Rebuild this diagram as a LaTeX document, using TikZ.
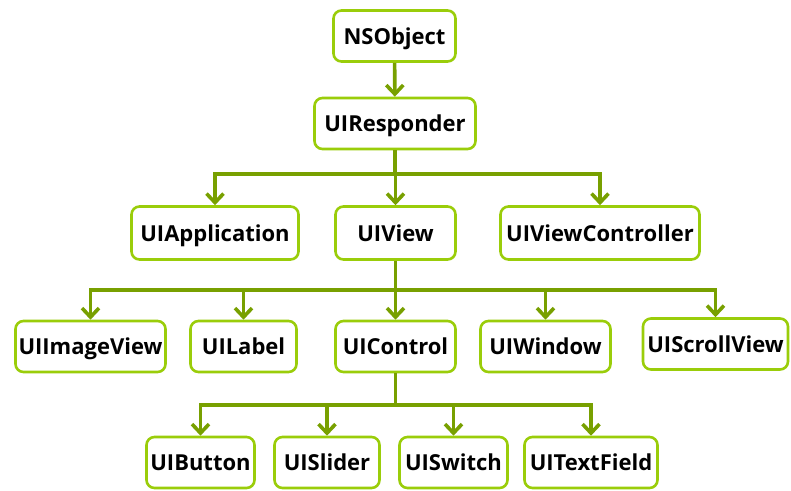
\documentclass[tikz,border=0pt]{standalone}
\usepackage{fontspec}
\setmainfont{Open Sans}
\usetikzlibrary{arrows.meta}
\definecolor{linkgreen}{HTML}{78A000}
\definecolor{framegreen}{HTML}{9ACD0A}
\tikzset{
  cls/.style={draw=framegreen, line width=2.6pt, rounded corners=8pt, fill=white,
    inner sep=0pt, text height=16pt, text depth=0pt, text=black,
    font=\bfseries\fontsize{22}{26}\selectfont},
  link/.style={draw=linkgreen, line width=3.6pt, line join=miter,
    -{Straight Barb[length=9pt,width=17pt,line width=3.6pt]}},
  trunk/.style={draw=linkgreen, line width=3.6pt}
}
\begin{document}
\begin{tikzpicture}[x=1pt,y=-1pt]
\useasboundingbox (0,0) rectangle (791,490);
% class boxes: name, centre, size
\node[cls, minimum width=122pt, minimum height=51pt] (nsobject) at (394.5,36) {NSObject};
\node[cls, minimum width=161pt, minimum height=51pt] (responder) at (395,123.5) {UIResponder};
\node[cls, minimum width=167pt, minimum height=53pt] (application) at (215,233) {UIApplication};
\node[cls, minimum width=120pt, minimum height=53pt] (view) at (395.5,233) {UIView};
\node[cls, minimum width=199pt, minimum height=53pt] (viewctrl) at (600,233) {UIViewController};
\node[cls, minimum width=150pt, minimum height=51pt] (imageview) at (90.5,346.5) {UIImageView};
\node[cls, minimum width=106pt, minimum height=51pt] (label) at (243.5,346.5) {UILabel};
\node[cls, minimum width=120pt, minimum height=51pt] (control) at (395.5,346.5) {UIControl};
\node[cls, minimum width=130pt, minimum height=51pt] (window) at (545.5,346.5) {UIWindow};
\node[cls, minimum width=145pt, minimum height=51pt] (scrollview) at (715.5,344) {UIScrollView};
\node[cls, minimum width=108pt, minimum height=51pt] (button) at (200.5,462.5) {UIButton};
\node[cls, minimum width=105pt, minimum height=51pt] (slider) at (327,462.5) {UISlider};
\node[cls, minimum width=108pt, minimum height=51pt] (switch) at (453.5,462.5) {UISwitch};
\node[cls, minimum width=133pt, minimum height=51pt] (textfield) at (591,462.5) {UITextField};
% branching points
\coordinate (jr) at (395,174);
\coordinate (jv) at (395.5,290);
\coordinate (jc) at (395.5,405);
% NSObject -> UIResponder
\draw[link] (nsobject) -- (responder);
% UIResponder subclasses
\draw[trunk] (responder.south) -- (jr);
\foreach \c in {application,view,viewctrl}
  \draw[link] (jr) -| (\c.north);
% UIView subclasses
\draw[trunk] (view.south) -- (jv);
\foreach \c in {imageview,label,control,window,scrollview}
  \draw[link] (jv) -| (\c.north);
% UIControl subclasses
\draw[trunk] (control.south) -- (jc);
\foreach \c in {button,slider,switch,textfield}
  \draw[link] (jc) -| (\c.north);
\end{tikzpicture}
\end{document}
